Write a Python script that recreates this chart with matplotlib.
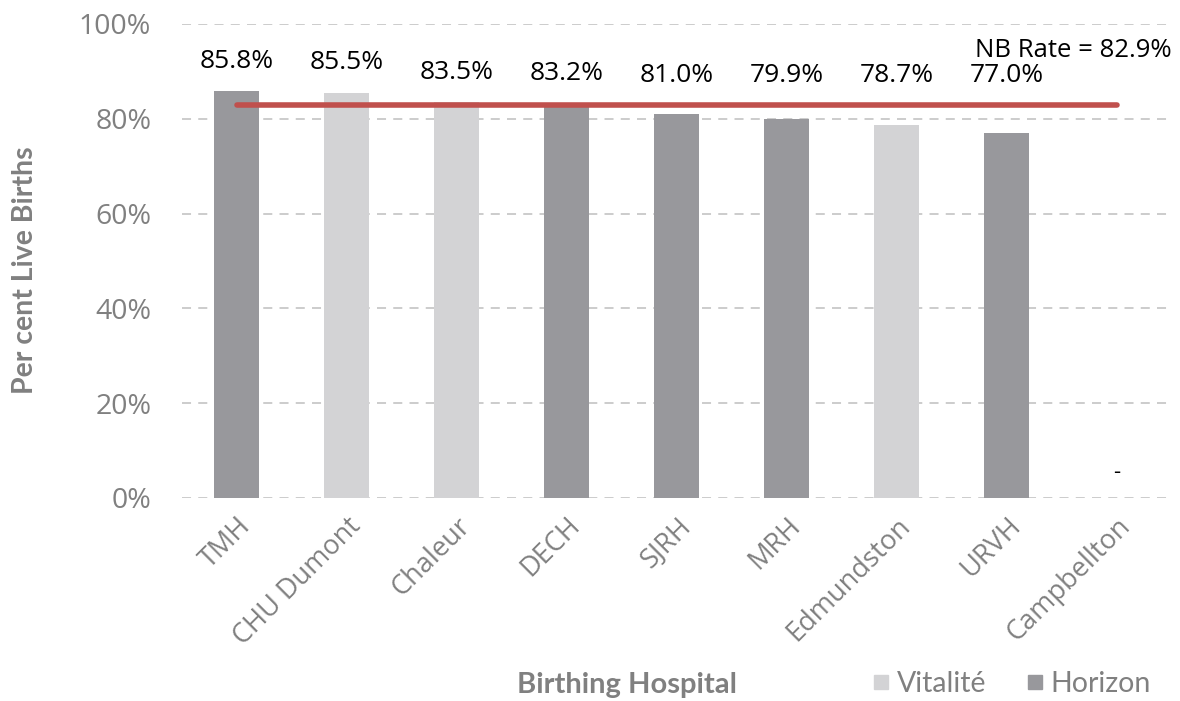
import numpy as np
import matplotlib.pyplot as plt
from matplotlib.lines import Line2D

# data
hospitals = ["TMH", "CHU Dumont", "Chaleur", "DECH", "SJRH", "MRH",
             "Edmundston", "URVH", "Campbellton"]
rates = [85.8, 85.5, 83.5, 83.2, 81.0, 79.9, 78.7, 77.0, None]
zones = ["Horizon", "Vitalité", "Vitalité", "Horizon", "Horizon", "Horizon",
         "Vitalité", "Horizon", "Vitalité"]
nb_rate = 82.9
yticks = [0, 20, 40, 60, 80, 100]

zone_colors = {"Vitalité": "#D3D3D5", "Horizon": "#98989C"}
tick_grey = "#808080"

fig = plt.figure(figsize=(11.8, 7.01), dpi=100)
ax = fig.add_axes([0.154, 0.2896, 0.839, 0.6762])

x = np.arange(len(hospitals))
heights = [r if r is not None else 0 for r in rates]
colors = [zone_colors[z] for z in zones]
ax.bar(x, heights, width=0.41, color=colors, zorder=2)

# provincial rate line
ax.plot([x[0], x[-1]], [nb_rate, nb_rate], color="#C0504D", lw=4,
        solid_capstyle="round", zorder=3)
ax.text(1.0, nb_rate + 11.5, "NB Rate = 82.9%", transform=ax.get_yaxis_transform(),
        ha="right", va="center", fontsize=18.5, family="Open Sans", color="black")

# value labels
for xi, r in zip(x, rates):
    if r is None:
        ax.annotate("-", (xi, 0), xytext=(0, 25), textcoords="offset pixels",
                    ha="center", va="center", fontsize=16, family="Open Sans")
        continue
    ax.annotate(f"{r:.1f}%", (xi, max(r, nb_rate)), xytext=(0, 30),
                textcoords="offset pixels", ha="center", va="center",
                fontsize=19, family="Open Sans", color="black")

ax.set_xlim(-0.5, len(hospitals) - 0.5)
ax.set_ylim(0, 100)
ax.set_yticks(yticks)
ax.set_yticklabels([f"{t}%" for t in yticks], fontsize=20.5, family="Open Sans",
                   color=tick_grey)
ax.set_xticks(x)
ax.set_xticklabels(hospitals, rotation=45, ha="right", rotation_mode="anchor",
                   fontsize=19.5, family="Open Sans", color=tick_grey)
ax.tick_params(axis="both", length=0)
ax.tick_params(axis="y", pad=22)
ax.tick_params(axis="x", pad=10)
ax.yaxis.grid(True, color="#C8C8C8", ls=(0, (5, 4)), lw=1.3, zorder=0)
ax.set_axisbelow(True)
for s in ax.spines.values():
    s.set_visible(False)

fig.text(25 / 1180, 1 - 270 / 701, "Per cent Live Births", rotation=90,
         ha="center", va="center", fontsize=20.5, fontweight="bold",
         family="Lato", color=tick_grey)
fig.text(627 / 1180, 1 - 685 / 701, "Birthing Hospital", ha="center",
         va="center", fontsize=21, fontweight="bold", family="Lato",
         color=tick_grey)

handles = [Line2D([], [], ls="none", marker="s", markersize=10,
                  color=zone_colors[z], label=z) for z in ["Vitalité", "Horizon"]]
fig.legend(handles=handles, loc="center right",
           bbox_to_anchor=(0.997, 1 - 684 / 701), ncol=2, frameon=False,
           handletextpad=0.05, columnspacing=1.2, handlelength=1.0,
           prop={"family": "Lato", "size": 20.5}, labelcolor=tick_grey)

fig.savefig("out.png", dpi=100)
